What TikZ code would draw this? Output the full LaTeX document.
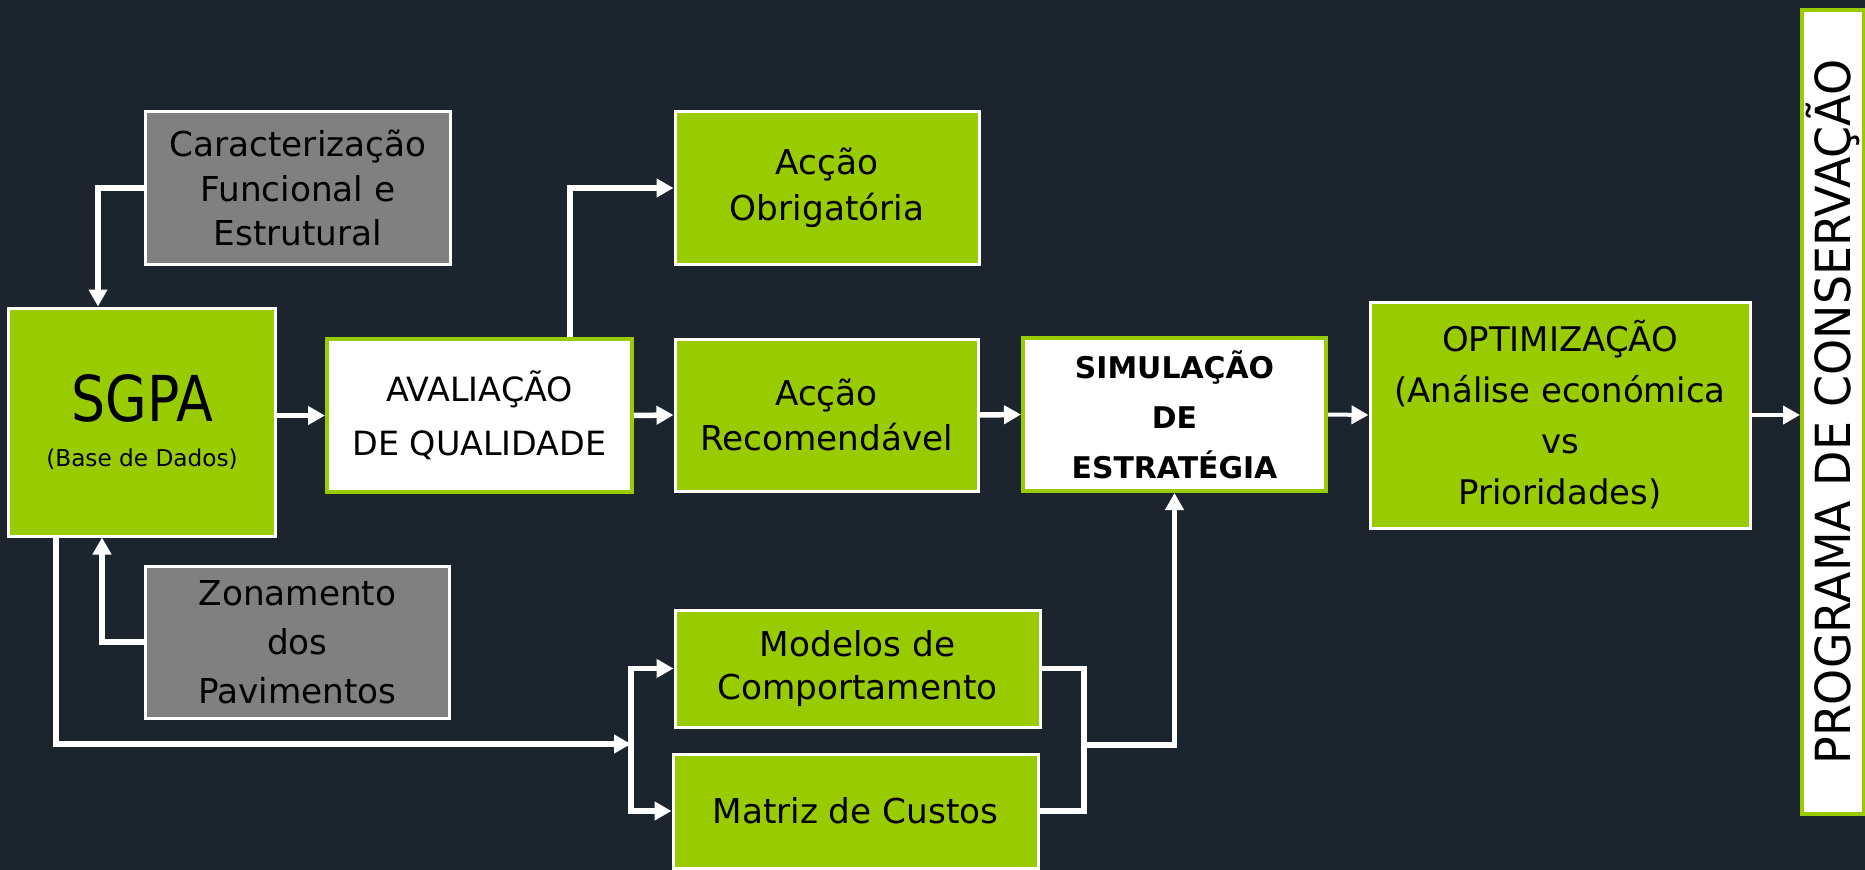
\documentclass[tikz,border=0pt]{standalone}
\usepackage{fontspec}
\setmainfont{DejaVu Sans}
\newfontfamily\narrowfont[FakeStretch=0.85]{DejaVu Sans}
\newfontfamily\tallfont[FakeStretch=0.95]{DejaVu Sans}
\usetikzlibrary{arrows.meta}
\definecolor{bgdark}{RGB}{28,36,46}
\definecolor{sgreen}{RGB}{153,204,0}
\definecolor{sgray}{RGB}{128,128,128}
\tikzset{>={Triangle[length=3.4mm,width=3.6mm]}}
\tikzset{
  box/.style={inner sep=0pt, align=center, text=black, font=\fontsize{19.5}{25.5}\selectfont},
  greenbox/.style={box, fill=sgreen, draw=white, line width=0.6mm},
  graybox/.style={box, fill=sgray, draw=white, line width=0.6mm},
  whitebox/.style={box, fill=white, draw=sgreen, line width=0.8mm},
  flow/.style={draw=white, line width=1.1mm},
}

\begin{document}
\begin{tikzpicture}[x=0.2mm, y=-0.2mm]
    \useasboundingbox (0,0) rectangle (1865,870);
    \fill[bgdark] (0,0) rectangle (1865,870);
    % caixas
    \node[graybox, minimum width=60.8mm, minimum height=30.4mm] (cara) at (298,188) {Caracterização\\Funcional e\\Estrutural};
    \node[greenbox, minimum width=53.2mm, minimum height=45.6mm, font=\fontsize{13.2}{25.6}\selectfont] (sgpa) at (142,422) {{\narrowfont\fontsize{36}{40}\selectfont SGPA}\\(Base de Dados)};
    \node[graybox, minimum width=60.6mm, minimum height=30.4mm, font=\fontsize{19.5}{28}\selectfont] (zona) at (297.5,642) {Zonamento\\dos\\Pavimentos};
    \node[whitebox, minimum width=61mm, minimum height=30.6mm, font=\fontsize{19}{30.5}\selectfont] (aval) at (479.5,415.5) {AVALIAÇÃO\\DE QUALIDADE};
    \node[greenbox, minimum width=60.8mm, minimum height=30.4mm, font=\fontsize{19.5}{26}\selectfont] (obrig) at (827,188) {Acção\\Obrigatória};
    \node[greenbox, minimum width=60.6mm, minimum height=30.4mm, font=\fontsize{19.5}{26}\selectfont] (recom) at (826.5,415) {Acção\\Recomendável};
    \node[greenbox, minimum width=73mm, minimum height=23.4mm, font=\fontsize{19.5}{24.4}\selectfont] (model) at (857.5,668.5) {Modelos de\\Comportamento};
    \node[greenbox, minimum width=73mm, minimum height=22.8mm] (matriz) at (855.5,811) {Matriz de Custos};
    \node[whitebox, minimum width=60.6mm, minimum height=30.6mm, font=\bfseries\fontsize{17}{28.4}\selectfont] (simul) at (1174.5,414.5) {SIMULAÇÃO\\DE\\ESTRATÉGIA};
    \node[greenbox, minimum width=76mm, minimum height=45.2mm, font=\fontsize{19.3}{29}\selectfont] (optim) at (1560,415) {OPTIMIZAÇÃO\\(Análise económica\\vs\\Prioridades)};
    \node[whitebox, rotate=90, minimum width=160.8mm, minimum height=12.4mm, font=\tallfont\fontsize{27.5}{30}\selectfont] (prog) at (1833,412) {PROGRAMA DE CONSERVAÇÃO};
    % ligacoes
    \coordinate (caraturn) at (98,188);
    \coordinate (zonaturn) at (102,642);
    \coordinate (sgpadown) at (56,744);
    \coordinate (split) at (631,744);
    \coordinate (join) at (1084,745);
    \coordinate (avalup) at (570,188);
    \draw[flow,->] (cara.west) -- (caraturn) -- (caraturn |- sgpa.north);
    \draw[flow,->] (zona.west) -- (zonaturn) -- (zonaturn |- sgpa.south);
    \draw[flow,->] (sgpadown |- sgpa.south) -- (sgpadown) -- (split);
    \draw[flow,->] (split) |- (model.west);
    \draw[flow,->] (split) |- (matriz.west);
    \draw[flow] (model.east) -| (join);
    \draw[flow] (matriz.east) -| (join);
    \draw[flow,->] (join) -| (simul.south);
    \draw[flow,->] (sgpa.east |- aval.west) -- (aval.west);
    \draw[flow,->] (avalup |- aval.north) |- (obrig.west);
    \draw[flow,->] (aval.east) -- (recom.west);
    \draw[flow,->] (recom.east) -- (simul.west);
    \draw[flow,->,line width=0.8mm] (simul.east) -- (optim.west);
    \draw[flow,->,line width=0.8mm] (optim.east) -- (optim.east -| prog.north);
\end{tikzpicture}
\end{document}
